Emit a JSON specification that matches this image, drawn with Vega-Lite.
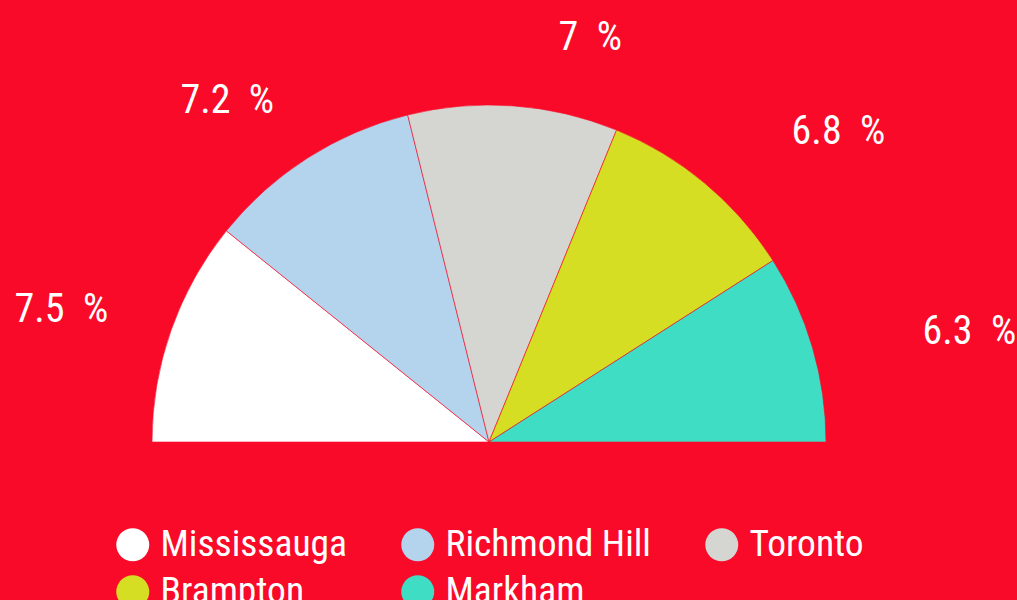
{
  "$schema": "https://vega.github.io/schema/vega-lite/v6.json",
  "width": 978,
  "height": 442,
  "padding": {"left": 0, "top": 0, "right": 0, "bottom": 0},
  "background": "#F90A28",
  "data": {
    "values": [
      {"City": "Mississauga", "Value": 7.5, "Label": "7.5\u00a0\u00a0%"},
      {"City": "Richmond Hill", "Value": 7.2, "Label": "7.2\u00a0\u00a0%"},
      {"City": "Toronto", "Value": 7.0, "Label": "7\u00a0\u00a0%"},
      {"City": "Brampton", "Value": 6.8, "Label": "6.8\u00a0\u00a0%"},
      {"City": "Markham", "Value": 6.3, "Label": "6.3\u00a0\u00a0%"}
    ]
  },
  "encoding": {
    "theta": {"field": "Value", "type": "quantitative", "stack": true, "scale": {"range": [-1.5707963, 1.5707963]}},
    "order": {"field": "Value", "type": "quantitative", "sort": "descending"}
  },
  "layer": [
    {
      "mark": {"type": "arc", "outerRadius": 337, "y": {"expr": "height"}, "stroke": "#F90A28", "strokeWidth": 0.6},
      "encoding": {
        "color": {
          "field": "City",
          "type": "nominal",
          "scale": {
            "domain": ["Mississauga", "Richmond Hill", "Toronto", "Brampton", "Markham"],
            "range": ["#FFFFFF", "#B3D4EC", "#D5D6D1", "#D5DE22", "#3EDDC4"]
          },
          "legend": {
            "title": null,
            "orient": "bottom",
            "columns": 3,
            "gridAlign": "none",
            "columnPadding": 52,
            "rowPadding": 8,
            "symbolType": "circle",
            "symbolSize": 1089,
            "symbolStrokeWidth": 0,
            "symbolOpacity": 1,
            "labelFontSize": 37.5,
            "labelFont": "Roboto Condensed, Liberation Sans Narrow, DejaVu Sans Condensed, sans-serif",
            "labelColor": "#FFFFFF",
            "labelLimit": 0,
            "labelOffset": 9,
            "offset": 84
          }
        }
      }
    },
    {
      "mark": {"type": "text", "radius": 410, "y": {"expr": "height"}, "align": "right", "baseline": "middle", "dx": 6, "dy": 4, "fontSize": 40, "font": "Roboto Condensed, Liberation Sans Narrow, DejaVu Sans Condensed, sans-serif", "color": "#FFFFFF"},
      "encoding": {
        "text": {"condition": {"test": "datum.Value > 7", "field": "Label", "type": "nominal"}, "value": ""}
      }
    },
    {
      "mark": {"type": "text", "radius": 410, "y": {"expr": "height"}, "align": "left", "baseline": "middle", "dx": 40, "dy": 5, "fontSize": 40, "font": "Roboto Condensed, Liberation Sans Narrow, DejaVu Sans Condensed, sans-serif", "color": "#FFFFFF"},
      "encoding": {
        "text": {"condition": {"test": "datum.Value <= 7", "field": "Label", "type": "nominal"}, "value": ""}
      }
    }
  ],
  "config": {
    "view": {"stroke": null},
    "legend": {
      "gridAlign": "none",
      "layout": {"bottom": {"anchor": "middle"}}
    }
  }
}
